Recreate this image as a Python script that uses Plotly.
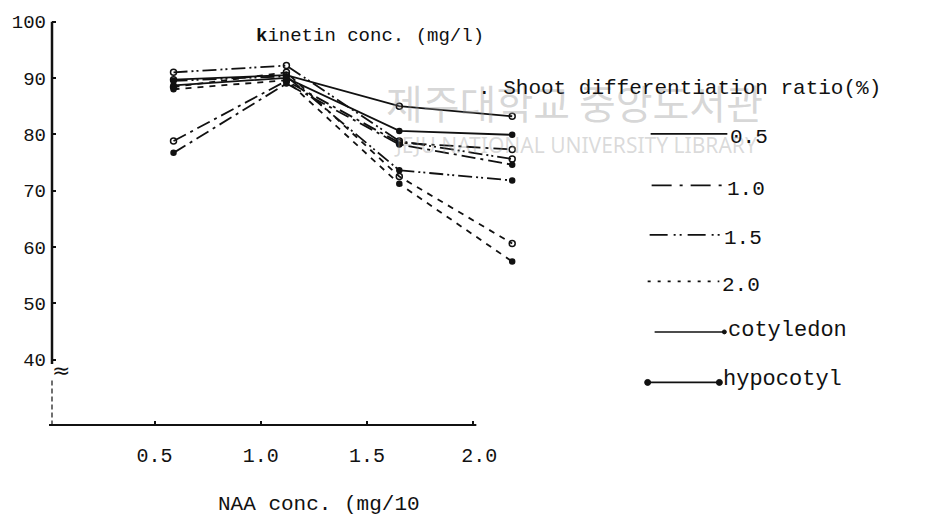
import plotly.graph_objects as go

# ---------------- data ----------------
naa = [0.5, 1.0, 1.5, 2.0]
kinetin_levels = ["0.5", "1.0", "1.5", "2.0"]
cotyledon_05 = [89.7, 90.5, 85.0, 83.2]
hypocotyl_05 = [88.7, 90.0, 80.6, 79.9]
cotyledon_10 = [78.8, 89.5, 78.5, 77.3]
hypocotyl_10 = [76.7, 89.0, 78.2, 74.6]
cotyledon_15 = [91.0, 92.2, 78.8, 75.6]
hypocotyl_15 = [89.5, 90.3, 73.6, 71.8]
cotyledon_20 = [88.4, 91.0, 72.5, 60.6]
hypocotyl_20 = [88.0, 89.6, 71.2, 57.4]
y_ticks = [40, 50, 60, 70, 80, 90, 100]
x_ticks = [0.5, 1.0, 1.5, 2.0]
x_ticktext = ["0.5", "1.0", "1.5", "\u00a02.0"]

# ---------------- layout geometry (reference pixels) ----------------
W, H = 930, 521
OFF = 8  # page body margin
L, R, T, B = 50, 560, 12, 425

def pxx(xp):
    return (xp - L) / (R - L)

def pxy(yp):
    return (B - yp) / (B - T)

# tick axis: 0.5 at px 153, 2.0 at px 473
sx = (473 - 153) / 1.5
x_range = [0.5 - (153 - L) / sx, 2.0 + (R - 473) / sx]
# data axis (points in the scan sit right of the ticks): 0.5 at px 172, 2.0 at px 512
sd = (512 - 172) / 1.5
xd_range = [0.5 - (172 - L) / sd, 2.0 + (R - 512) / sd]
# y axis: 70 at px 188.3, 5.686 px per unit
sy = 5.686
y_range = [70 - (B - 188.3) / sy, 70 + (188.3 - T) / sy]

INK = "#111111"
MONO = "Liberation Mono"

dash_styles = {
    "0.5": "solid",
    "1.0": "14px,5px,3px,5px",
    "1.5": "14px,4px,2px,3px,2px,4px",
    "2.0": "6px,6px",
}

series = [
    ("0.5", "cotyledon", cotyledon_05),
    ("0.5", "hypocotyl", hypocotyl_05),
    ("1.0", "cotyledon", cotyledon_10),
    ("1.0", "hypocotyl", hypocotyl_10),
    ("1.5", "cotyledon", cotyledon_15),
    ("1.5", "hypocotyl", hypocotyl_15),
    ("2.0", "cotyledon", cotyledon_20),
    ("2.0", "hypocotyl", hypocotyl_20),
]

fig = go.Figure()
for kin, part, vals in series:
    open_m = part == "cotyledon"
    fig.add_trace(go.Scatter(
        x=naa, y=vals, xaxis="x", yaxis="y",
        mode="lines+markers",
        name=f"{kin} {part}",
        showlegend=False,
        line=dict(color=INK, width=1.8, dash=dash_styles[kin]),
        marker=dict(
            symbol="circle-open" if open_m else "circle",
            size=6 if open_m else 5,
            color=INK,
            line=dict(color=INK, width=1.5),
        ),
        cliponaxis=False,
    ))
# empty helper trace so the tick-bearing axis (x2) gets drawn
fig.add_trace(go.Scatter(x=[], y=[], xaxis="x2", yaxis="y", mode="lines",
                         showlegend=False, hoverinfo="skip"))

shapes = []
annotations = []

# axes lines drawn as in the scan
shapes.append(dict(type="line", xref="paper", yref="y", x0=0, x1=0,
                   y0=39.2, y1=100, line=dict(color=INK, width=2.5)))
shapes.append(dict(type="line", xref="paper", yref="paper", x0=0, x1=0,
                   y0=pxy(380), y1=0, line=dict(color=INK, width=1.2, dash="5px,3px")))
shapes.append(dict(type="line", xref="paper", yref="paper", x0=pxx(47), x1=pxx(476),
                   y0=0, y1=0, line=dict(color=INK, width=2)))
annotations.append(dict(xref="paper", yref="paper", x=pxx(59), y=pxy(370),
                        text="≈", showarrow=False, xanchor="center", yanchor="middle",
                        font=dict(family="DejaVu Sans", size=22, color=INK)))

# watermark text of the scanned document
annotations.append(dict(xref="paper", yref="paper", x=pxx(575), y=pxy(99),
                        text="제주대학교 중앙도서관", showarrow=False,
                        xanchor="center", yanchor="middle",
                        font=dict(family="Noto Sans CJK KR", size=40,
                                  color="rgba(150,150,150,0.38)")))
annotations.append(dict(xref="paper", yref="paper", x=pxx(576), y=pxy(142),
                        text="JEJU NATIONAL UNIVERSITY LIBRARY", showarrow=False,
                        xanchor="center", yanchor="middle",
                        font=dict(family="Noto Sans", size=21,
                                  color="rgba(150,150,150,0.35)")))

# titles
annotations.append(dict(xref="paper", yref="paper", x=pxx(253), y=pxy(32),
                        text="<b>k</b>inetin conc. (mg/l)", showarrow=False,
                        xanchor="left", yanchor="middle",
                        font=dict(family=MONO, size=19, color=INK)))
annotations.append(dict(xref="paper", yref="paper", x=pxx(476), y=pxy(85),
                        text=". Shoot differentiation ratio(%)", showarrow=False,
                        xanchor="left", yanchor="middle",
                        font=dict(family=MONO, size=21, color=INK)))
annotations.append(dict(xref="paper", yref="paper", x=pxx(318), y=pxy(505),
                        text="NAA conc. (mg/10", showarrow=False,
                        xanchor="center", yanchor="middle",
                        font=dict(family=MONO, size=21, color=INK)))

# hand-drawn style legend
legend_rows = [
    ("0.5", dash_styles["0.5"], 131, 651, 728),
    ("1.0", "20px,8px,3px,8px", 183, 652, 725),
    ("1.5", "18px,6px,2px,4px,2px,6px", 233, 650, 722),
    ("2.0", "3px,7px", 280, 648, 720),
]
for lab, dash, yy, xa, xb in legend_rows:
    shapes.append(dict(type="line", xref="paper", yref="paper",
                       x0=pxx(xa), x1=pxx(xb), y0=pxy(yy), y1=pxy(yy),
                       line=dict(color=INK, width=1.8, dash=dash)))
    annotations.append(dict(xref="paper", yref="paper", x=pxx(xb + 1), y=pxy(yy + 4),
                            text=lab, showarrow=False, xanchor="left", yanchor="middle",
                            font=dict(family=MONO, size=21, color=INK)))

# cotyledon / hypocotyl
shapes.append(dict(type="line", xref="paper", yref="paper",
                   x0=pxx(655), x1=pxx(725), y0=pxy(331), y1=pxy(331),
                   line=dict(color=INK, width=1.5)))
shapes.append(dict(type="circle", xref="paper", yref="paper",
                   x0=pxx(723), x1=pxx(727), y0=pxy(333), y1=pxy(329),
                   line=dict(color=INK, width=1), fillcolor=INK))
annotations.append(dict(xref="paper", yref="paper", x=pxx(727), y=pxy(330),
                        text="cotyledon", showarrow=False, xanchor="left", yanchor="middle",
                        font=dict(family=MONO, size=22, color=INK)))
shapes.append(dict(type="line", xref="paper", yref="paper",
                   x0=pxx(648), x1=pxx(720), y0=pxy(382), y1=pxy(382),
                   line=dict(color=INK, width=1.8)))
for cx in (648, 720):
    shapes.append(dict(type="circle", xref="paper", yref="paper",
                       x0=pxx(cx - 3), x1=pxx(cx + 3), y0=pxy(385), y1=pxy(379),
                       line=dict(color=INK, width=1), fillcolor=INK))
annotations.append(dict(xref="paper", yref="paper", x=pxx(722), y=pxy(379),
                        text="hypocotyl", showarrow=False, xanchor="left", yanchor="middle",
                        font=dict(family=MONO, size=22, color=INK)))

fig.update_layout(
    width=W, height=H, autosize=False,
    margin=dict(l=L - OFF, r=W - (R - OFF), t=T - OFF, b=H - (B - OFF), pad=0),
    paper_bgcolor="white", plot_bgcolor="white",
    showlegend=False,
    xaxis=dict(range=xd_range, showticklabels=False, ticks="",
               showline=False, showgrid=False, zeroline=False),
    xaxis2=dict(range=x_range, overlaying="x", anchor="y", side="bottom",
                tickvals=x_ticks, ticktext=x_ticktext,
                ticks="inside", ticklen=4, tickwidth=2, tickcolor=INK,
                showline=False, showgrid=False, zeroline=False,
                ticklabelstandoff=16,
                tickfont=dict(family=MONO, size=20, color=INK)),
    yaxis=dict(range=y_range, tickvals=y_ticks,
               ticks="inside", ticklen=4, tickwidth=2, tickcolor=INK,
               showline=False, showgrid=False, zeroline=False,
               ticklabelstandoff=5,
               tickfont=dict(family=MONO, size=19, color=INK)),
    shapes=shapes,
    annotations=annotations,
)

fig.write_html("out.html")
